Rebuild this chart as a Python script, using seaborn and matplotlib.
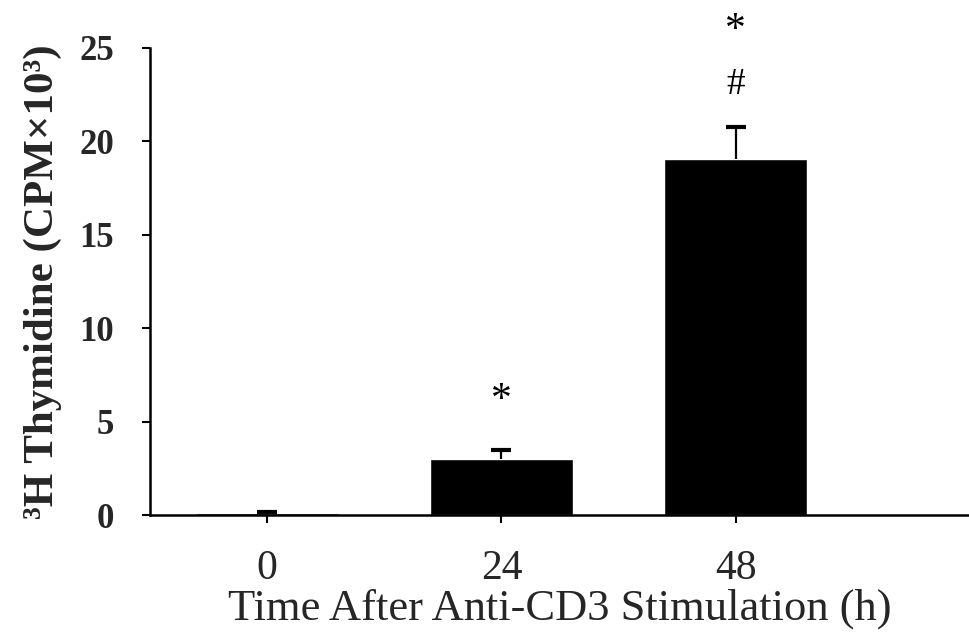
import matplotlib
matplotlib.use("Agg")
import matplotlib.pyplot as plt
import seaborn as sns
import pandas as pd

# Data: thymidine incorporation after anti-CD3 stimulation
hours = ["0", "24", "48"]
cpm_mean = [0.1, 3.0, 19.05]
cpm_sem = [0.05, 0.48, 1.72]

sns.set_theme(style="ticks")
plt.rcParams["font.family"] = ["Liberation Serif", "DejaVu Serif"]

df = pd.DataFrame({"hours": hours, "cpm": cpm_mean})

fig = plt.figure(figsize=(9.7, 6.41), dpi=100)
ax = fig.add_axes([150 / 970, 1 - 515 / 641, 1 - 150 / 970, (515 - 48) / 641])

sns.barplot(data=df, x="hours", y="cpm", color="black", width=0.61,
            errorbar=None, saturation=1, ax=ax)

# upper-only error bars (SEM)
xs = range(len(hours))
_, caps, _ = ax.errorbar(xs, cpm_mean, yerr=[[0] * len(cpm_sem), cpm_sem],
                         fmt="none", ecolor="black", elinewidth=1.6,
                         capsize=7, capthick=3)
caps[0].set_visible(False)

# significance markers
ax.text(1, 6.1, "*", ha="center", va="center", fontsize=30, color="black")
ax.text(2, 25.95, "*", ha="center", va="center", fontsize=30, color="black",
        clip_on=False)
ax.text(2, 23.05, "#", ha="center", va="center", fontsize=27, color="black")

ax.set_xlim(-0.5, 3.0)
ax.set_ylim(0, 25)
ax.set_yticks([0, 5, 10, 15, 20, 25])
ax.set_xticks(list(xs))
ax.set_xticklabels(hours, fontsize=30)
for lbl in ax.get_yticklabels():
    lbl.set_fontsize(25)
    lbl.set_fontweight("bold")

ax.set_xlabel("Time After Anti-CD3 Stimulation (h)", fontsize=32, labelpad=0)
ax.set_ylabel("³H Thymidine (CPM×10³)", fontsize=31, fontweight="bold",
              labelpad=12)

ax.tick_params(axis="y", direction="out", length=6, width=1.5, pad=20,
               color="black")
ax.tick_params(axis="x", direction="out", length=6, width=1.5, pad=19,
               color="black")
for side in ["top", "right"]:
    ax.spines[side].set_visible(False)
for side in ["left", "bottom"]:
    ax.spines[side].set_color("black")
    ax.spines[side].set_linewidth(1.8)

fig.savefig("out.png", dpi=100, facecolor="white")
